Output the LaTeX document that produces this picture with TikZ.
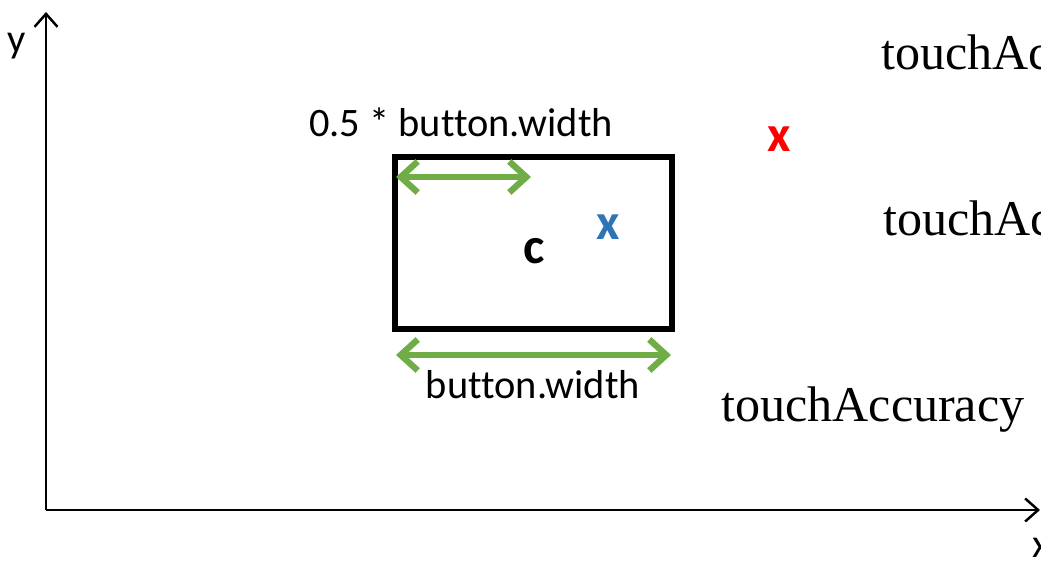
\documentclass[tikz,border=0pt]{standalone}
\usepackage{fontspec}
\setmainfont{Liberation Serif}
\newfontfamily\calibri[Ligatures=NoCommon]{Carlito}
\usetikzlibrary{arrows.meta}
\definecolor{btngreen}{RGB}{112,173,71}
\definecolor{hitblue}{RGB}{46,117,182}
\definecolor{missred}{RGB}{255,0,0}
\tikzset{
  axis/.style={line width=1.6pt, -{Straight Barb[length=0.26cm, width=0.46cm, line width=1.4pt]}},
  measure/.style={btngreen, line width=3.6pt, {Straight Barb[length=0.34cm, width=0.62cm]}-{Straight Barb[length=0.34cm, width=0.62cm]}},
  sans/.style={font=\calibri\fontsize{23}{26}\selectfont, inner sep=0pt},
  serif/.style={font=\fontsize{28.5}{32}\selectfont, inner sep=0pt, anchor=west},
  touchmark/.style={font=\calibri\bfseries\fontsize{29}{30}\selectfont, inner sep=0pt}
}
\begin{document}
\begin{tikzpicture}[x = 0.02cm, y = -0.02cm]
	\clip (0, 0) rectangle (1041, 561);
	% Axes
	\coordinate (origin) at (46, 510);
	\coordinate (ytip) at (46, 12);
	\coordinate (xtip) at (1040, 510);
	\draw[axis] (origin) to (ytip);
	\draw[axis] (origin) to (xtip);
	\node[sans] (ylabel) at (17, 46) {y};
	\node[sans] (xlabel) at (1041, 548) {x};
	
	% Button
	\node[draw, line width=3.2pt, minimum width=5.54cm, minimum height=3.44cm, inner sep=0pt] (button) at (533.5, 243) {};
	\node[touchmark] (c) at (534, 251) {c};
	
	% Widths
	\coordinate (halfl) at (396, 177);
	\coordinate (halfr) at (531, 177);
	\coordinate (fulll) at (396, 355);
	\coordinate (fullr) at (671, 355);
	\draw[measure] (halfl) to (halfr);
	\draw[measure] (fulll) to (fullr);
	\node[sans] (halflabel) at (461, 122) {0.5 * button.width};
	\node[sans] (fulllabel) at (533, 385) {button.width};
	
	% Touches
	\node[touchmark, text=hitblue] (hit) at (608, 227) {x};
	\node[touchmark, text=missred] (miss) at (779, 139) {x};
	
	% Accuracy labels
	\node[serif] (acc1) at (881, 52) {touchAc};
	\node[serif] (acc2) at (883, 218) {touchAc};
	\node[serif] (acc3) at (721, 410) {touchAccuracy};
\end{tikzpicture}
\end{document}
